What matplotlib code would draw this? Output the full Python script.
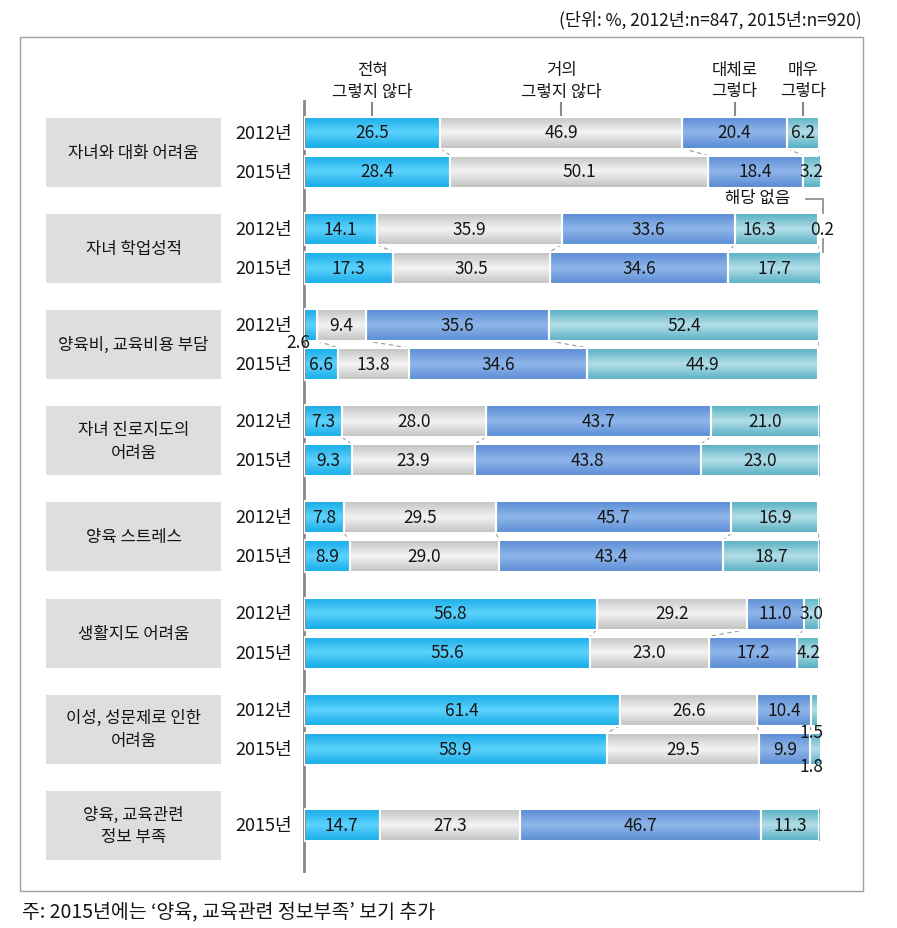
import numpy as np
import matplotlib.pyplot as plt
from matplotlib.colors import LinearSegmentedColormap
from matplotlib.patches import Rectangle

plt.rcParams['font.family'] = ['Noto Sans CJK KR', 'DejaVu Sans']

# 데이터
categories = ['자녀와 대화 어려움', '자녀 학업성적', '양육비, 교육비용 부담',
              '자녀 진로지도의\n어려움', '양육 스트레스', '생활지도 어려움',
              '이성, 성문제로 인한\n어려움', '양육, 교육관련\n정보 부족']
answers = ['전혀\n그렇지 않다', '거의\n그렇지 않다', '대체로\n그렇다', '매우\n그렇다']
years = ['2012년', '2015년']
vals_2012 = [[26.5, 46.9, 20.4, 6.2],
             [14.1, 35.9, 33.6, 16.3],
             [2.6, 9.4, 35.6, 52.4],
             [7.3, 28.0, 43.7, 21.0],
             [7.8, 29.5, 45.7, 16.9],
             [56.8, 29.2, 11.0, 3.0],
             [61.4, 26.6, 10.4, 1.5],
             None]
vals_2015 = [[28.4, 50.1, 18.4, 3.2],
             [17.3, 30.5, 34.6, 17.7],
             [6.6, 13.8, 34.6, 44.9],
             [9.3, 23.9, 43.8, 23.0],
             [8.9, 29.0, 43.4, 18.7],
             [55.6, 23.0, 17.2, 4.2],
             [58.9, 29.5, 9.9, 1.8],
             [14.7, 27.3, 46.7, 11.3]]
no_answer = 0.2  # 자녀 학업성적 2012년 '해당 없음'

# 색상 (가장자리, 가운데)
edge_cols = ['#16ace6', '#c2c2c2', '#5a8cd4', '#56b0c4']
mid_cols = ['#5dd2fd', '#f4f4f4', '#8fb6ea', '#b4dee8']
txt = '#151515'

# 작은 값 라벨 위치 조정 (group, year, seg) -> (x%, dy)
label_pos = {(1, 0, 3): (88.5, 0), (2, 0, 0): (-1.2, 17),
             (6, 0, 3): (98.6, 22), (6, 1, 3): (98.6, 17)}

W, H = 897, 929
fig = plt.figure(figsize=(W / 100, H / 100), dpi=100)

# 배경용 축 (픽셀 좌표)
bg = fig.add_axes([0, 0, 1, 1])
bg.set_xlim(0, W)
bg.set_ylim(H, 0)
bg.axis('off')
bg.add_patch(Rectangle((20, 38), 843, 854, fill=False, ec='#a0a0a0', lw=1))
bg.text(862, 20, '(단위: %, 2012년:n=847, 2015년:n=920)', ha='right', va='center',
        fontsize=12.5, color=txt)
bg.text(22, 912, '주: 2015년에는 ‘양육, 교육관련 정보부족’ 보기 추가', ha='left', va='center',
        fontsize=14, color=txt)

# 막대 축
ax = fig.add_axes([304 / W, 1 - 872 / H, 515 / W, (872 - 102) / H])
for s in ['top', 'right', 'bottom']:
    ax.spines[s].set_visible(False)
ax.spines['left'].set_color('#888888')
ax.spines['left'].set_linewidth(2)
ax.set_xticks([])
ax.set_yticks([])
ax.patch.set_alpha(0)

bar_h = 32
cmaps = [LinearSegmentedColormap.from_list(f'c{i}', [edge_cols[i], mid_cols[i], edge_cols[i]])
         for i in range(4)]
grad = np.linspace(0, 1, 64).reshape(-1, 1)


def draw_row(y, vals, g, yi):
    left = np.concatenate([[0], np.cumsum(vals)[:-1]])
    for i, (l, v) in enumerate(zip(left, vals)):
        rect = ax.barh(y, v, left=l, height=bar_h, facecolor='none',
                       edgecolor='white', lw=1.5, zorder=3)[0]
        im = ax.imshow(grad, extent=[l, l + v, y + bar_h / 2, y - bar_h / 2],
                       aspect='auto', cmap=cmaps[i], zorder=2, interpolation='bilinear')
        im.set_clip_path(rect)
        x, dy = label_pos.get((g, yi, i), (l + v / 2, 0))
        ax.text(x, y + dy, f'{v:.1f}', ha='center', va='center', fontsize=12.5,
                color=txt, zorder=4, clip_on=False)
    return np.cumsum(vals)


for g, cat in enumerate(categories):
    gc = 153 + g * 96.2
    bg.add_patch(Rectangle((46, gc - 34.5), 175, 69, fc='#dedede', ec='none'))
    bg.text(133.5, gc, cat, ha='center', va='center', fontsize=12, color=txt,
            linespacing=1.45)
    if vals_2012[g] is None:
        draw_row(gc, vals_2015[g], g, 1)
        bg.text(292, gc, years[1], ha='right', va='center', fontsize=13, color=txt)
        continue
    y1, y2 = gc - 19.5, gc + 19.5
    c1 = draw_row(y1, vals_2012[g], g, 0)
    c2 = draw_row(y2, vals_2015[g], g, 1)
    bg.text(292, y1, years[0], ha='right', va='center', fontsize=13, color=txt)
    bg.text(292, y2, years[1], ha='right', va='center', fontsize=13, color=txt)
    for a, b in zip(c1, c2):
        ax.plot([a, b], [y1 + bar_h / 2, y2 - bar_h / 2], ls=(0, (4, 3)), lw=0.8,
                color='#999999', zorder=1)
    if g == 1:
        ax.text(100.6, y1, f'{no_answer:.1f}', ha='center', va='center', fontsize=12.5,
                color=txt, clip_on=False)
        ax.text(88, y1 - 31, '해당 없음', ha='center', va='center', fontsize=12,
                color=txt, clip_on=False)
        ax.plot([97.5, 100.8, 100.8], [y1 - 30, y1 - 30, y1 - 16], color='#888888',
                lw=1.2, clip_on=False)
        ax.plot([100.8, 100.8], [y1 + 10, y2 - bar_h / 2], color='#888888', lw=1.2,
                clip_on=False)

# 상단 응답 라벨
first = vals_2012[0]
centers = np.cumsum(first) - np.array(first) / 2
top = 153 - 19.5 - bar_h / 2
for c, lab in zip(centers, answers):
    ax.plot([c, c], [top - 14, top - 1], color='#888888', lw=1.5, clip_on=False)
    ax.text(c, top - 17, lab, ha='center', va='bottom', fontsize=12, color=txt,
            linespacing=1.35, clip_on=False)

ax.set_xlim(0, 100)
ax.set_ylim(872, 102)

fig.savefig('out.png', dpi=100)
